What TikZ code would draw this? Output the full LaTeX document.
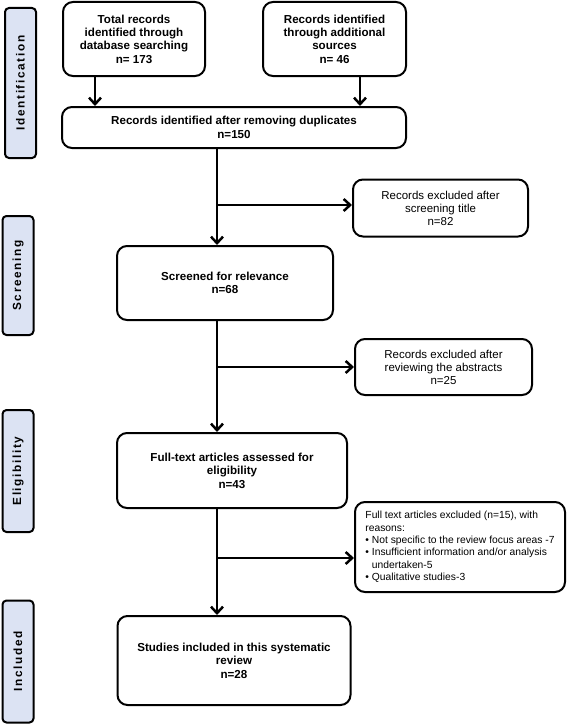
\documentclass[tikz,border=0pt]{standalone}
\usepackage{fontspec}
\setmainfont{Liberation Sans}
\newfontfamily\sidefont[LetterSpace=14]{Liberation Sans}
\usetikzlibrary{arrows.meta,positioning,calc}
\definecolor{sidefill}{RGB}{220,227,243}
\begin{document}
\begin{tikzpicture}[x=1pt,y=-1pt,
  mainbox/.style={draw,line width=2pt,rounded corners=10pt,align=center,
    font=\fontsize{11.6}{13.4}\selectfont\bfseries,inner sep=2pt},
  sidebox/.style={draw,line width=2pt,rounded corners=10pt,align=center,
    font=\fontsize{11.5}{13}\selectfont,inner sep=2pt},
  phase/.style={draw,line width=2pt,rounded corners=4pt,fill=sidefill,
    inner sep=0pt,
    font=\sidefont\fontsize{11.8}{13}\selectfont\bfseries,rotate=90},
  arr/.style={line width=2.5pt,-{Straight Barb[length=6.5pt,width=12pt]}}]
\useasboundingbox (0,0) rectangle (568,725);
\fill[white] (0,0) rectangle (568,725);

% phase labels
\node[phase,minimum height=31pt,minimum width=150pt] (pid) at (20.5,83) {Identification};
\node[phase,minimum height=31pt,minimum width=119pt] (psc) at (18,275.5) {Screening};
\node[phase,minimum height=31pt,minimum width=122pt] (pel) at (18,471) {Eligibility};
\node[phase,minimum height=31pt,minimum width=122pt] (pin) at (18,661.5) {Included};

% main boxes
\node[mainbox,minimum width=142pt,minimum height=74pt] (b1) at (134,39)
  {Total records\\identified through\\database searching\\n= 173};
\node[mainbox,minimum width=143pt,minimum height=74pt] (b2) at (334.5,39)
  {Records identified\\through additional\\sources\\n= 46};
\node[mainbox,minimum width=344pt,minimum height=41pt] (b3) at (234,127.5)
  {Records identified after removing duplicates\\n=150};
\node[mainbox,minimum width=216pt,minimum height=74pt] (b5) at (225,283)
  {Screened for relevance\\n=68};
\node[mainbox,minimum width=230pt,minimum height=75pt] (b7) at (232,470.5)
  {Full-text articles assessed for\\eligibility\\n=43};
\node[mainbox,minimum width=233pt,minimum height=89pt] (b9) at (234,660.5)
  {Studies included in this systematic\\review\\n=28};

% exclusion boxes
\node[sidebox,minimum width=175pt,minimum height=57pt] (b4) at (440.5,208)
  {Records excluded after\\screening title\\n=82};
\node[sidebox,minimum width=177pt,minimum height=56pt] (b6) at (443.5,367)
  {Records excluded after\\reviewing the abstracts\\n=25};
\node[sidebox,minimum width=210pt,minimum height=90pt,align=left,
  font=\fontsize{10.3}{12.4}\selectfont] (b8) at (460,547)
  {Full text articles excluded (n=15), with\\reasons:\\
   \textbullet\ Not specific to the review focus areas -7\\
   \textbullet\ Insufficient information and/or analysis\\
   \phantom{\textbullet\ }undertaken-5\\
   \textbullet\ Qualitative studies-3};

% connectors
\coordinate (spine) at (217,0);
\coordinate (a1) at (95,0);
\coordinate (a2) at (360,0);
\draw[arr] (b1.south -| a1) -- (b3.north -| a1);
\draw[arr] (b2.south -| a2) -- (b3.north -| a2);
\draw[arr] (b3.south -| spine) -- (b5.north -| spine);
\draw[arr] ([yshift=3pt]b4.west -| spine) -- ([yshift=3pt]b4.west);
\draw[arr] (b5.south -| spine) -- (b7.north -| spine);
\draw[arr] (b6.west -| spine) -- (b6.west);
\draw[arr] (b7.south -| spine) -- (b9.north -| spine);
\draw[arr] ([yshift=-11pt]b8.west -| spine) -- ([yshift=-11pt]b8.west);
\end{tikzpicture}
\end{document}
